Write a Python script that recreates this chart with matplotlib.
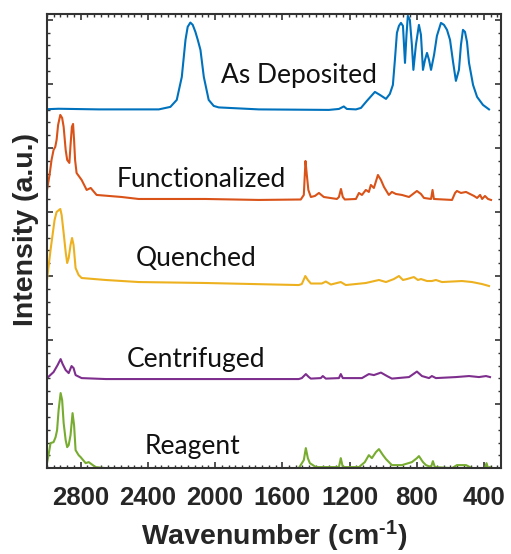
import numpy as np
import matplotlib
matplotlib.use("Agg")
import matplotlib.pyplot as plt
from matplotlib.ticker import MultipleLocator, NullFormatter

plt.rcParams['font.family'] = ['Liberation Sans', 'DejaVu Sans']
plt.rcParams['mathtext.fontset'] = 'custom'
plt.rcParams['mathtext.bf'] = 'Liberation Sans:bold'
plt.rcParams['mathtext.rm'] = 'Liberation Sans:bold'
plt.rcParams['mathtext.default'] = 'bf'

# spectra, stacked (wavenumber in cm^-1, intensity in a.u.)
dep_wn = [3000, 2931, 2693, 2335, 2266, 2228, 2198, 2176, 2163, 2147, 2133, 2117, 2103, 2087,
          2067, 2038, 2008, 1978, 1740, 1323, 1263, 1234, 1216, 1162, 1132, 1097, 1049, 1019,
          983, 960, 942, 930, 918, 906, 894, 882, 870, 861, 853, 841, 829, 820, 805, 787, 775,
          763, 751, 739, 727, 715, 697, 680, 656, 638, 620, 602, 584, 567, 549, 537, 525, 513,
          501, 489, 465, 441, 406, 370]
dep_int = [5.605, 5.612, 5.602, 5.602, 5.641, 5.75, 6.109, 6.688, 6.891, 6.958, 6.922, 6.812,
           6.688, 6.531, 6.109, 5.75, 5.656, 5.633, 5.602, 5.594, 5.609, 5.648, 5.609, 5.602,
           5.625, 5.734, 5.875, 5.828, 5.766, 5.844, 5.984, 6.375, 6.797, 6.906, 6.953, 6.906,
           6.328, 6.766, 7.063, 7.0, 6.609, 6.219, 6.609, 6.922, 6.766, 6.219, 6.375, 6.484,
           6.375, 6.219, 6.453, 6.75, 6.953, 6.922, 6.844, 6.688, 6.344, 6.047, 6.219, 6.609,
           6.844, 6.813, 6.656, 6.328, 5.984, 5.797, 5.672, 5.602]

fun_wn = [3000, 2985, 2973, 2961, 2951, 2943, 2934, 2921, 2910, 2901, 2889, 2880, 2867, 2860,
          2852, 2845, 2839, 2833, 2824, 2794, 2764, 2740, 2705, 2556, 2455, 2056, 1740, 1490,
          1472, 1462, 1454, 1445, 1430, 1406, 1382, 1353, 1275, 1263, 1251, 1240, 1228, 1162,
          1144, 1126, 1103, 1085, 1073, 1055, 1031, 1013, 995, 966, 948, 924, 888, 846, 799,
          775, 757, 715, 706, 698, 590, 572, 561, 537, 507, 483, 459, 441, 423, 411, 394, 376, 358]
fun_int = [4.344, 4.578, 4.813, 4.969, 5.016, 5.125, 5.359, 5.516, 5.469, 5.328, 4.969, 4.813,
           4.766, 5.047, 5.328, 5.375, 5.125, 4.813, 4.609, 4.5, 4.344, 4.375, 4.266, 4.234,
           4.203, 4.203, 4.188, 4.195, 4.266, 4.797, 4.578, 4.344, 4.234, 4.25, 4.297, 4.234,
           4.203, 4.234, 4.359, 4.234, 4.195, 4.203, 4.297, 4.266, 4.344, 4.313, 4.422, 4.375,
           4.578, 4.5, 4.391, 4.266, 4.313, 4.281, 4.266, 4.234, 4.328, 4.281, 4.219, 4.203,
           4.344, 4.203, 4.188, 4.297, 4.328, 4.297, 4.313, 4.281, 4.25, 4.219, 4.266, 4.203,
           4.25, 4.203, 4.188]

que_wn = [3000, 2991, 2979, 2967, 2955, 2943, 2921, 2913, 2901, 2889, 2880, 2871, 2860, 2851,
          2842, 2830, 2812, 2794, 2651, 2455, 2056, 1502, 1484, 1463, 1448, 1430, 1365, 1341,
          1311, 1252, 1222, 1103, 1025, 983, 936, 906, 882, 858, 817, 793, 775, 739, 710, 686,
          650, 531, 471, 412, 370]
que_int = [2.938, 3.141, 3.406, 3.641, 3.875, 4.0, 4.047, 3.953, 3.672, 3.375, 3.203, 3.281,
           3.484, 3.594, 3.484, 3.125, 3.016, 2.969, 2.938, 2.906, 2.891, 2.859, 2.875, 3.0,
           2.938, 2.883, 2.883, 2.914, 2.867, 2.906, 2.859, 2.891, 2.938, 2.906, 2.953, 3.0,
           2.938, 2.953, 2.984, 2.938, 2.953, 2.922, 2.922, 2.938, 2.906, 2.922, 2.906, 2.875,
           2.844]

cen_wn = [3000, 2961, 2937, 2919, 2907, 2889, 2871, 2854, 2842, 2830, 2794, 2651, 1502, 1484,
          1460, 1442, 1430, 1371, 1359, 1341, 1263, 1252, 1240, 1126, 1085, 1055, 1013, 977,
          948, 846, 799, 769, 727, 710, 686, 567, 489, 430, 388, 364]
cen_int = [1.406, 1.5, 1.609, 1.703, 1.625, 1.531, 1.484, 1.594, 1.563, 1.453, 1.406, 1.391,
           1.391, 1.406, 1.469, 1.422, 1.398, 1.406, 1.438, 1.398, 1.406, 1.469, 1.406, 1.406,
           1.469, 1.453, 1.492, 1.438, 1.398, 1.422, 1.508, 1.438, 1.406, 1.438, 1.406, 1.422,
           1.438, 1.422, 1.438, 1.422]

rea_wn = [3000, 2991, 2979, 2961, 2949, 2940, 2931, 2919, 2910, 2901, 2889, 2880, 2871, 2860,
          2848, 2839, 2830, 2812, 2800, 2770, 2752, 2711, 2651, 1502, 1472, 1460, 1448, 1436,
          1400, 1263, 1252, 1240, 1144, 1109, 1085, 1067, 1043, 1025, 1001, 983, 948, 888, 829,
          799, 787, 763, 745, 715, 704, 692, 590, 561, 507, 471, 394, 385, 376, 364]
rea_int = [0.078, 0.203, 0.391, 0.406, 0.484, 0.594, 0.906, 1.172, 1.063, 0.703, 0.438, 0.328,
           0.359, 0.516, 0.859, 0.672, 0.281, 0.203, 0.172, 0.078, 0.094, 0.016, 0.0, 0.0,
           0.125, 0.313, 0.156, 0.078, 0.016, 0.016, 0.156, 0.016, 0.016, 0.094, 0.203, 0.156,
           0.25, 0.297, 0.203, 0.141, 0.047, 0.047, 0.094, 0.156, 0.188, 0.094, 0.047, 0.016,
           0.109, 0.016, 0.0, 0.047, 0.047, 0.0, 0.0, 0.078, 0.0, 0.016]

names = ['As Deposited', 'Functionalized', 'Quenched', 'Centrifuged', 'Reagent']
colors = ['#0072BD', '#D95319', '#EDB120', '#7E2F8E', '#77AC30']
label_wn = [1502, 2085, 2112, 2112, 2136]
label_int = [6.016, 4.391, 3.156, 1.573, 0.219]
tick_wn = [2800, 2400, 2000, 1600, 1200, 800, 400]

spectra = [(dep_wn, dep_int), (fun_wn, fun_int), (que_wn, que_int),
           (cen_wn, cen_int), (rea_wn, rea_int)]

fig = plt.figure(figsize=(5.11, 5.54), dpi=100)
ax = fig.add_axes([0.092, 0.155, 0.888, 0.820])

for (wn, inten), c in zip(spectra, colors):
    ax.plot(wn, inten, color=c, lw=1.5)

for name, x, y in zip(names, label_wn, label_int):
    ax.text(x, y, name, ha='center', va='baseline', fontsize=19,
            family=['Lato', 'DejaVu Sans'], color='#111111')

ax.set_xlim(3000, 300)
ax.set_ylim(0, 7.094)
ax.set_xticks(tick_wn)
ax.set_xticklabels([str(t) for t in tick_wn], fontweight='bold', color='#262626')
ax.xaxis.set_minor_locator(MultipleLocator(40))
ax.yaxis.set_major_locator(MultipleLocator(1))
ax.yaxis.set_minor_locator(MultipleLocator(0.2))
ax.yaxis.set_major_formatter(NullFormatter())
ax.tick_params(which='both', direction='in', top=True, right=True, color='#333333')
ax.tick_params(which='major', length=4.5, width=1.2, labelsize=18.5, pad=13)
ax.tick_params(which='minor', length=2.5, width=1.0)
for s in ax.spines.values():
    s.set_linewidth(1.5)
    s.set_color('#333333')

ax.set_xlabel(r'Wavenumber (cm$^{\text{-}1}$)', fontsize=20.5, fontweight='bold',
              color='#262626', va='baseline')
ax.set_ylabel('Intensity (a.u.)', fontsize=20.5, fontweight='bold',
              color='#262626', va='baseline')
ax.xaxis.set_label_coords(0.5, -0.170)
ax.yaxis.set_label_coords(-0.031, 0.526)

fig.savefig('out.png', dpi=100)
